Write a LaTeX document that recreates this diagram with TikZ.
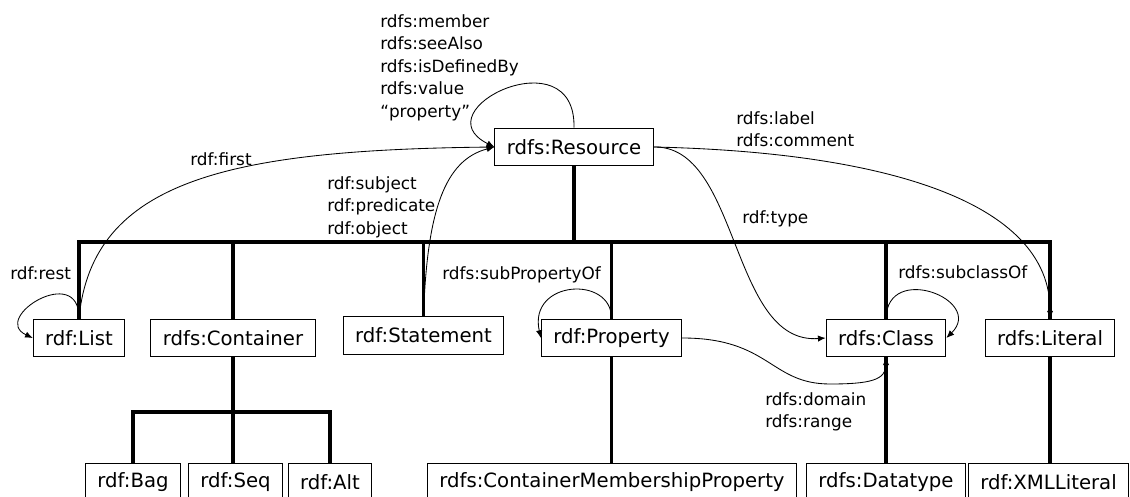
\documentclass[tikz,border=0pt]{standalone}
\usepackage{fontspec}
\setmainfont{DejaVu Sans}
\usetikzlibrary{arrows.meta}

\tikzset{
cls/.style = {draw, line width=0.7pt, font=\fontsize{14}{16}\selectfont,
	minimum height=26.9pt, inner xsep=8.5pt, inner ysep=0pt},
lbl/.style = {font=\fontsize{12}{16}\selectfont, align=left, inner sep=0pt},
isa/.style = {line width=2.2pt},
rel/.style = {line width=0.6pt, -{Latex[length=5.5pt,width=4.5pt]}}
}

\begin{document}
\begin{tikzpicture}[x=0.025cm,y=-0.025cm]
\useasboundingbox (0,0) rectangle (1130,497);
\clip (0,0) rectangle (1130,497);

% classes
\node[cls] (res) at (574,147) {rdfs:Resource};
\node[cls] (list) at (79,338) {rdf:List};
\node[cls] (cont) at (233,338) {rdfs:Container};
\node[cls] (stmt) at (423.5,335.5) {rdf:Statement};
\node[cls] (property) at (611.5,338) {rdf:Property};
\node[cls] (class) at (886,338) {rdfs:Class};
\node[cls] (lit) at (1050,338) {rdfs:Literal};
\node[cls] (bag) at (133,482) {rdf:Bag};
\node[cls] (seq) at (235.5,482) {rdf:Seq};
\node[cls] (alt) at (330,482) {rdf:Alt};
\node[cls] (cmp) at (612,482) {rdfs:ContainerMembershipProperty};
\node[cls] (dtype) at (886,482) {rdfs:Datatype};
\node[cls] (xml) at (1048.5,482) {rdf:XMLLiteral};

% subclass tree
\coordinate (top) at (0,242);
\coordinate (low) at (0,412);
\draw[isa] (res.south) -- (res.south |- top);
\draw[isa] (list.north) |- (lit.north |- top) -- (lit.north);
\foreach \n in {cont,stmt,property,class}
	\draw[isa] (\n.north) -- (\n.north |- top);
\draw[isa] (cont.south) -- (cont.south |- seq.north);
\draw[isa] (bag.north) |- (cont.south |- low) -| (alt.north);
\draw[isa] (property.south) -- (property.south |- cmp.north);
\draw[isa] (dtype.north) -- (class.south);
\draw[isa] (lit.south) -- (lit.south |- xml.north);

% properties
\draw[rel] (res.north) .. controls (576,35) and (420,110) .. (res.west);
\draw[rel] (list.north) .. controls (92,180) and (230,150) .. (res.west);
\draw[rel] (list.north) .. controls (80,262) and (-10,318) .. (list.west);
\draw[rel] (stmt.north) .. controls (427,210) and (445,160) .. (res.west);
\draw[rel] (res.east) .. controls (740,145) and (730,345) .. (class.west);
\draw[rel] (res.east) .. controls (880,152) and (1051,200) .. (lit.north);
\draw[rel] (property.north) .. controls (612,275) and (528,280) .. (property.west);
\draw[rel] (class.north) .. controls (887,262) and (985,300) .. (class.east);
\draw[rel] (property.east) .. controls (770,338) and (770,384) .. (830,384)
	.. controls (870,384) and (886,380) .. (class.south);

% labels
\node[lbl, anchor=north west] (resl) at (380,14)
	{rdfs:member\\rdfs:seeAlso\\rdfs:isDefinedBy\\rdfs:value\\“property”};
\node[lbl, anchor=north west] (litl) at (736,111) {rdfs:label\\rdfs:comment};
\node[lbl, anchor=north west] (stmtl) at (327,176)
	{rdf:subject\\rdf:predicate\\rdf:object};
\node[lbl, anchor=base west] (firstl) at (190,166) {rdf:first};
\node[lbl, anchor=base west] (restl) at (10,280) {rdf:rest};
\node[lbl, anchor=base west] (subpl) at (442,280) {rdfs:subPropertyOf};
\node[lbl, anchor=base west] (subcl) at (898,279) {rdfs:subclassOf};
\node[lbl, anchor=base west] (typel) at (742,224) {rdf:type};
\node[lbl, anchor=north west] (doml) at (765,392) {rdfs:domain\\rdfs:range};
\end{tikzpicture}
\end{document}
